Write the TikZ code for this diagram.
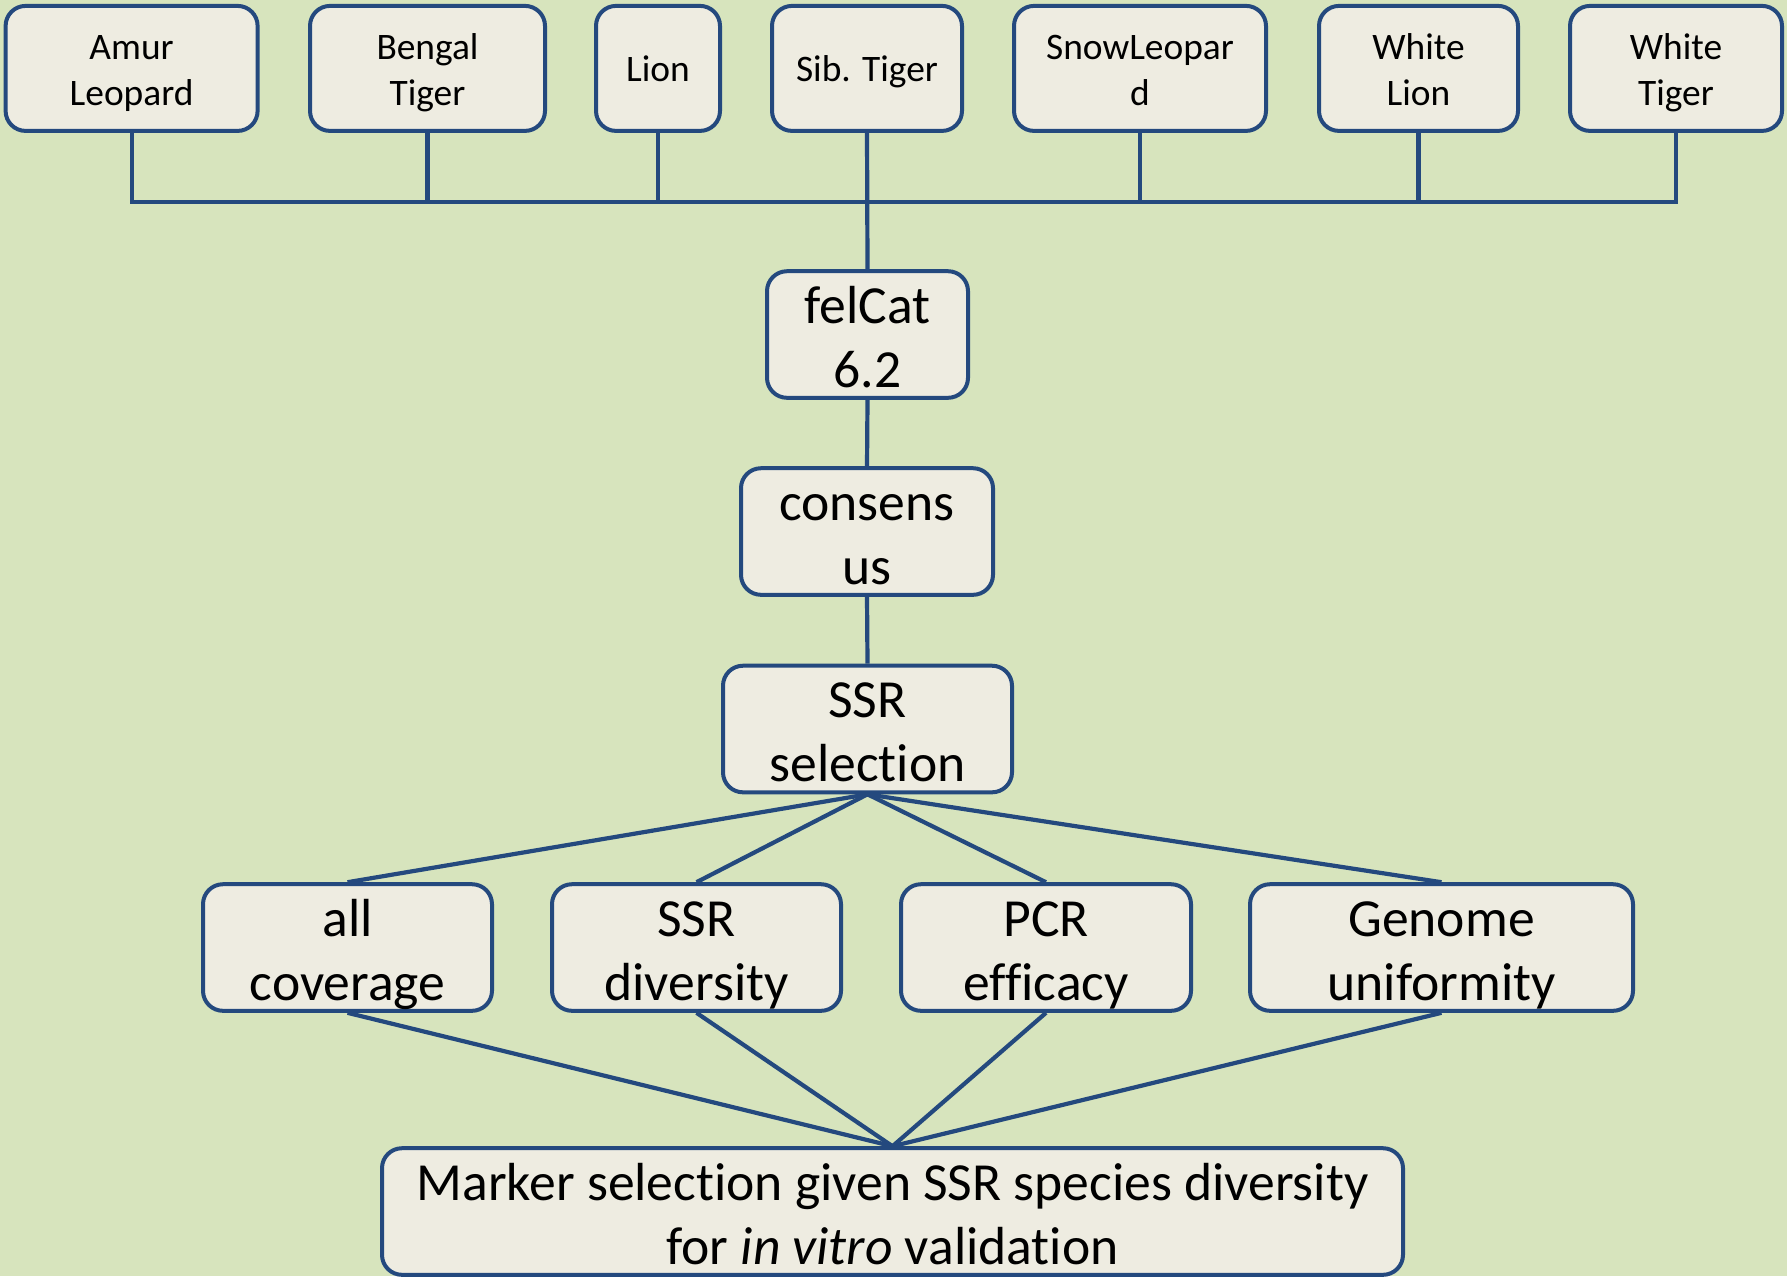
\documentclass[tikz,border=0pt]{standalone}
\usepackage{fontspec}
\setmainfont[RawFeature={-liga;-clig;-calt;-dlig}]{Carlito}
\definecolor{bgc}{HTML}{D7E4BD}
\definecolor{boxc}{HTML}{EEECE1}
\definecolor{linec}{HTML}{24497E}
\begin{document}
\begin{tikzpicture}[x=0.5pt,y=-0.5pt,
  box/.style={draw=linec, line width=2pt, fill=boxc, rounded corners=10pt,
    align=center, inner sep=0pt, minimum height=62.5pt},
  small/.style={box, font=\fontsize{18.7}{22.6}\selectfont, text height=40pt, text depth=3.4pt},
  smallone/.style={box, font=\fontsize{18.7}{22.6}\selectfont, text height=17.3pt, text depth=3.8pt},
  big/.style={box, font=\fontsize{26.8}{32}\selectfont, text height=58pt, text depth=5.3pt},
  conn/.style={draw=linec, line width=2.1pt}]
\fill[bgc] (0,0) rectangle (1787,1276);
\useasboundingbox (0,0) rectangle (1787,1276);
% top row
\node[small, minimum width=126pt] (amur) at (131.6,68.4) {Amur\\Leopard};
\node[small, minimum width=117.5pt] (bengal) at (427.5,68.4) {Bengal\\Tiger};
\node[smallone, minimum width=62pt] (lion) at (658,68.4) {Lion};
\node[smallone, minimum width=95pt] (sib) at (867,68.4) {Sib. Tiger};
\node[small, minimum width=126pt] (snow) at (1140,68.4) {SnowLeopar\\d};
\node[small, minimum width=99.5pt] (wlion) at (1418.5,68.4) {White\\Lion};
\node[small, minimum width=106pt] (wtiger) at (1676,68.4) {White\\Tiger};
% chain
\node[big, minimum width=100.5pt] (felcat) at (867.5,334.5) {felCat\\6.2};
\node[big, minimum width=126pt] (cons) at (867,531.5) {consens\\us};
\node[big, minimum width=144.5pt] (ssrsel) at (867.5,729) {SSR\\selection};
% criteria row
\node[big, minimum width=144.5pt] (allcov) at (347.5,947.5) {all\\coverage};
\node[big, minimum width=144.5pt] (ssrdiv) at (696.5,947.5) {SSR\\diversity};
\node[big, minimum width=145pt] (pcr) at (1046,947.5) {PCR\\efficacy};
\node[big, minimum width=191.5pt] (genome) at (1441.5,947.5) {Genome\\uniformity};
% marker
\node[big, minimum width=510.5pt] (marker) at (892.5,1211.5) {Marker selection given SSR species diversity\\for \textit{in vitro} validation};
% bus
\coordinate (busy) at (0,201.7);
\draw[conn] (amur.south) -- (amur.south |- busy) -- (wtiger.south |- busy) -- (wtiger.south);
\draw[conn] (bengal.south) -- (bengal.south |- busy);
\draw[conn] (lion.south) -- (lion.south |- busy);
\draw[conn] (snow.south) -- (snow.south |- busy);
\draw[conn] (wlion.south) -- (wlion.south |- busy);
\draw[conn] (sib.south) -- (felcat.north);
\draw[conn] (felcat.south) -- (cons.north);
\draw[conn] (cons.south) -- (ssrsel.north);
\foreach \n in {allcov,ssrdiv,pcr,genome}{
  \draw[conn] (ssrsel.south) -- (\n.north);
  \draw[conn] (\n.south) -- (marker.north);
}
\end{tikzpicture}
\end{document}
